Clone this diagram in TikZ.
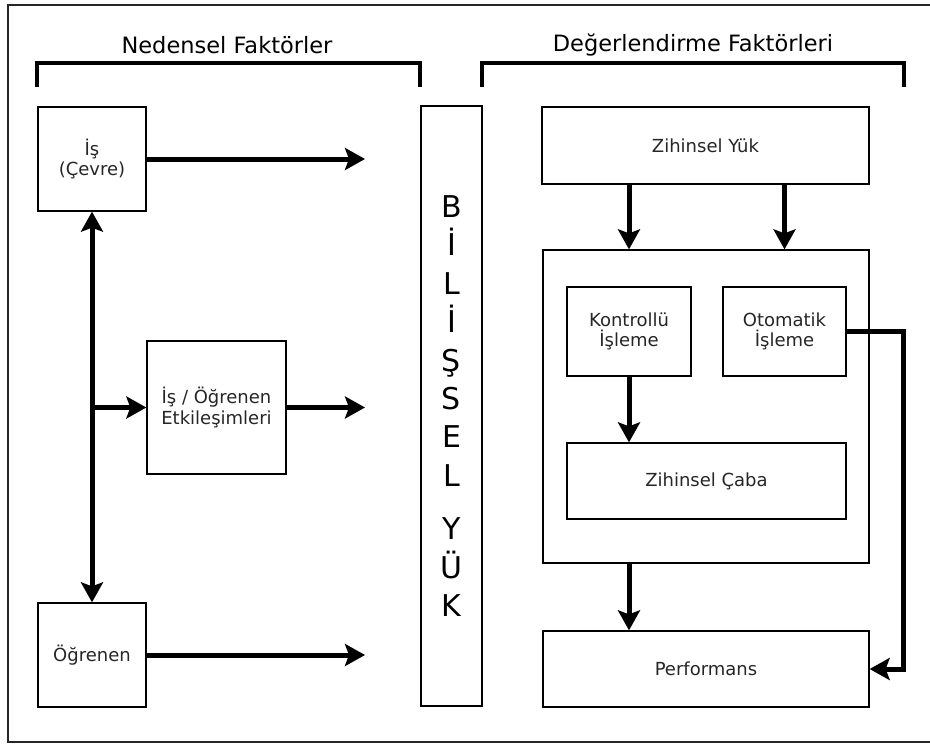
\documentclass[tikz,border=0pt]{standalone}
\usepackage{fontspec}
\setmainfont{DejaVu Sans}
\usetikzlibrary{arrows.meta}

\begin{document}
\begin{tikzpicture}[
  ucok/.tip={Stealth[length=20bp,width=22bp,inset=4bp]},
  kutu/.style={draw,line width=1.3bp,inner sep=0pt,align=center,text=black!85,font=\fontsize{18bp}{20.5bp}\selectfont},
  ok/.style={-ucok,line width=5bp},
  ciftok/.style={ucok-ucok,line width=5bp},
  baslik/.style={font=\fontsize{22.5bp}{27bp}\selectfont},
  parantez/.style={line width=3.5bp}
]
\useasboundingbox (0bp,0bp) rectangle (930bp,-744bp);
\draw [line width=2bp,black!85] (8bp,-5bp) rectangle (950bp,-742bp);

\node (neden) at (227bp,-45bp)[baslik] {Nedensel Faktörler};
\node (deger) at (693bp,-45bp)[baslik] {Değerlendirme Faktörleri};
\draw [parantez] (37bp,-87bp) -- (37bp,-63bp) -- (420bp,-63bp) -- (420bp,-87bp);
\draw [parantez] (482bp,-87bp) -- (482bp,-63bp) -- (904bp,-63bp) -- (904bp,-87bp);

\node (isbox) at (92bp,-159bp)[kutu,minimum width=108bp,minimum height=104bp] {İş\\(Çevre)};
\node (etkilesim) at (216.5bp,-407.5bp)[kutu,minimum width=139bp,minimum height=133bp] {İş / Öğrenen\\Etkileşimleri};
\node (ogrenen) at (92bp,-655bp)[kutu,minimum width=108bp,minimum height=104bp] {Öğrenen};
\coordinate (uc) at (365bp,0bp);

\node (bilissel) at (451.5bp,-406bp)[kutu,text=black,minimum width=61bp,minimum height=600bp,font=\fontsize{30bp}{38.4bp}\selectfont] {B\\İ\\L\\İ\\Ş\\S\\E\\L\\[15bp]Y\\Ü\\K};

\node (yuk) at (705.5bp,-145.5bp)[kutu,minimum width=327bp,minimum height=77bp] {Zihinsel Yük};
\node (isleme) at (706bp,-406.5bp)[kutu,minimum width=326bp,minimum height=313bp] {};
\node (kontrollu) at (629bp,-331.5bp)[kutu,minimum width=124bp,minimum height=89bp] {Kontrollü\\İşleme};
\node (otomatik) at (784.5bp,-331.5bp)[kutu,minimum width=123bp,minimum height=89bp] {Otomatik\\İşleme};
\node (caba) at (706.5bp,-481bp)[kutu,minimum width=279bp,minimum height=76bp] {Zihinsel Çaba};
\node (performans) at (706bp,-669bp)[kutu,minimum width=326bp,minimum height=76bp] {Performans};

\draw [ok] (isbox.east) -- (isbox.east -| uc);
\draw [ok] (etkilesim.east) -- (etkilesim.east -| uc);
\draw [ok] (ogrenen.east) -- (ogrenen.east -| uc);
\draw [ciftok] (isbox.south) -- (ogrenen.north);
\draw [ok] (isbox.south |- etkilesim.west) -- (etkilesim.west);

\draw [ok] (kontrollu |- yuk.south) -- (kontrollu |- isleme.north);
\draw [ok] (otomatik |- yuk.south) -- (otomatik |- isleme.north);
\draw [ok] (kontrollu.south) -- (kontrollu |- caba.north);
\draw [ok] (kontrollu |- isleme.south) -- (kontrollu |- performans.north);
\draw [ok] (otomatik.east) -- ++(57bp,0bp) |- (performans.east);
\end{tikzpicture}
\end{document}
